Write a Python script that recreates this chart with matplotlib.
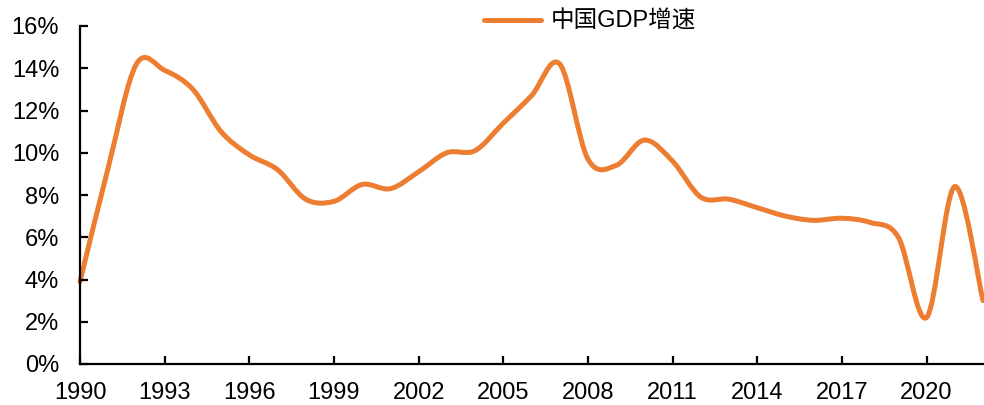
import matplotlib
matplotlib.use("Agg")
import matplotlib.pyplot as plt
import numpy as np
from matplotlib.path import Path
from matplotlib.patches import PathPatch
from matplotlib.lines import Line2D
from matplotlib.ticker import FuncFormatter, MultipleLocator

plt.rcParams['font.family'] = ['Liberation Sans', 'Noto Sans CJK SC', 'DejaVu Sans']

years = list(range(1990, 2023))
gdp_growth = [3.9, 9.3, 14.2, 13.9, 13.0, 11.0, 9.9, 9.2, 7.8, 7.7,
              8.5, 8.3, 9.1, 10.0, 10.1, 11.4, 12.7, 14.2, 9.7, 9.4,
              10.6, 9.6, 7.9, 7.8, 7.4, 7.0, 6.8, 6.9, 6.7, 6.0,
              2.2, 8.4, 3.0]
series_label = "中国GDP增速"
xtick_years = list(range(1990, 2021, 3))
color = "#ED7D31"

fig = plt.figure(figsize=(9.84, 4.05), dpi=100)
ax = fig.add_axes([80/984, 1-364/405, 903/984, (364-26)/405])

# smooth curve (Catmull-Rom style Bezier) through the data points
x = np.array(years, dtype=float)
y = np.array(gdp_growth, dtype=float)
t = 1/6
verts = [(x[0], y[0])]
codes = [Path.MOVETO]
n = len(x)
for i in range(n - 1):
    p0 = (x[i-1], y[i-1]) if i > 0 else (x[i], y[i])
    p1 = (x[i], y[i])
    p2 = (x[i+1], y[i+1])
    p3 = (x[i+2], y[i+2]) if i + 2 < n else (x[i+1], y[i+1])
    c1 = (p1[0] + (p2[0]-p0[0])*t, p1[1] + (p2[1]-p0[1])*t)
    c2 = (p2[0] - (p3[0]-p1[0])*t, p2[1] - (p3[1]-p1[1])*t)
    verts += [c1, c2, p2]
    codes += [Path.CURVE4]*3
patch = PathPatch(Path(verts, codes), facecolor='none', edgecolor=color,
                  lw=3.6, capstyle='round', joinstyle='round', clip_on=False)
ax.add_patch(patch)

ax.set_xlim(1990, 2022)
ax.set_ylim(0, 16)
ax.yaxis.set_major_locator(MultipleLocator(2))
ax.yaxis.set_major_formatter(FuncFormatter(lambda v, p: f"{int(round(v))}%"))
ax.set_xticks(xtick_years)
ax.set_xticklabels([str(v) for v in xtick_years])
for s in ['top', 'right']:
    ax.spines[s].set_visible(False)
for s in ['left', 'bottom']:
    ax.spines[s].set_linewidth(1.6)
    ax.spines[s].set_color('black')
ax.tick_params(axis='both', direction='in', length=6, width=1.6, labelsize=17, colors='black')
ax.tick_params(axis='y', pad=15)
ax.tick_params(axis='x', pad=13)

handle = Line2D([], [], color=color, lw=3.6, solid_capstyle='round')
leg = fig.legend([handle], [series_label], loc='center', bbox_to_anchor=(590/984, 1-22/405),
                 frameon=False, fontsize=17, handlelength=2.4, handletextpad=0.4)

fig.savefig("out.png", dpi=100)
